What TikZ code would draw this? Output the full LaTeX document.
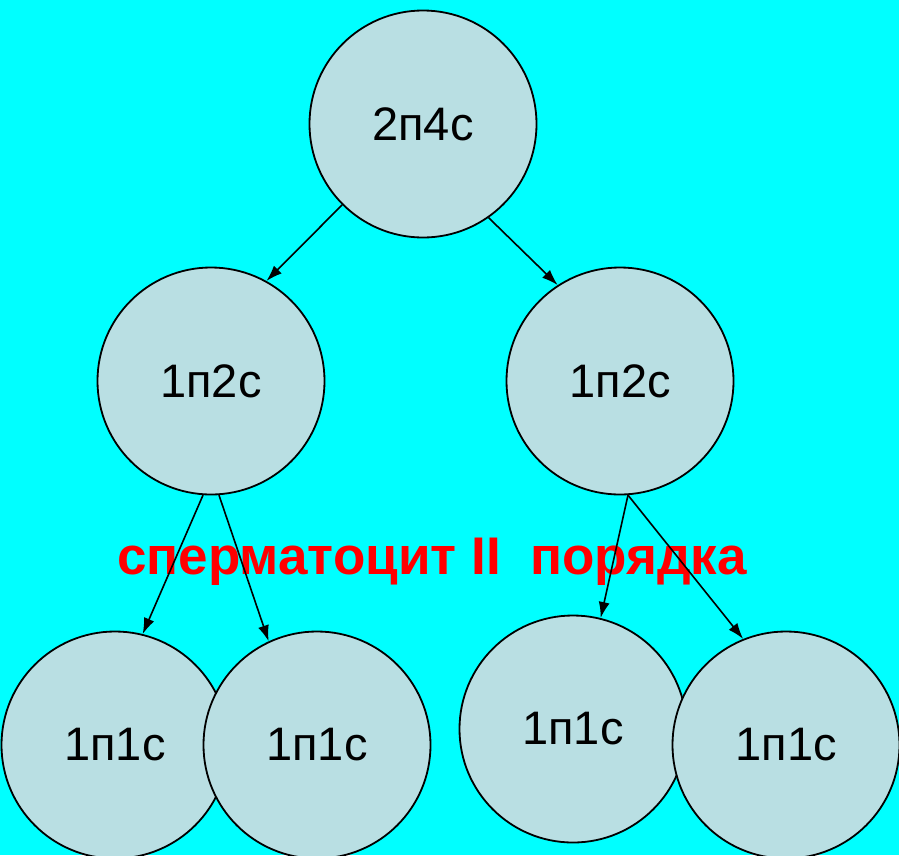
\documentclass[tikz,border=0pt]{standalone}
\usepackage{fontspec}
\setmainfont{Liberation Sans}
\usepackage{tikz}
\usetikzlibrary{positioning, arrows.meta}
\tikzstyle{sheet} = [x = 1pt, y = -1pt]
\definecolor{bgColor}{RGB}{0,255,255}
\definecolor{cellFill}{RGB}{185,223,227}
\definecolor{labelRed}{RGB}{255,0,0}
\tikzstyle{cellStyle} = [circle, draw=black, fill=cellFill, line width=1.8pt, minimum size=227pt, inner sep=0pt, font=\fontsize{47}{47}\selectfont]
\tikzstyle{splitArrow} = [-{Latex[length=16pt, width=11pt]}, line width=1.6pt]
\tikzstyle{stageText} = [text=labelRed, anchor=base west, inner sep=0pt, font=\fontsize{53}{53}\selectfont\bfseries]
\newcommand{\cell}[4]{\node [cellStyle] (#1) at (#2, #3) {#4};}
\newcommand{\splitTo}[4]{\draw [splitArrow] (#1.#2) -- (#3.#4);}
\begin{document}
\begin{tikzpicture}[sheet]
        \fill [bgColor] (0,0) rectangle (899,855);
        \useasboundingbox (0,0) rectangle (899,855);

        % first and second division
        \cell{mother}{423}{124}{2п4с}
        \cell{leftTwo}{211}{381}{1п2с}
        \cell{rightTwo}{620}{381}{1п2с}
        \cell{cellA}{115}{745}{1п1с}
        \cell{cellB}{317}{745}{1п1с}
        \cell{cellC}{573}{729}{1п1с}
        \cell{cellD}{786}{745}{1п1с}

        \node [stageText] (stage) at (117,574) {сперматоцит II~~порядка};

        \splitTo{mother}{225}{leftTwo}{61}
        \splitTo{mother}{305}{rightTwo}{123}
        \splitTo{leftTwo}{266}{cellA}{76}
        \splitTo{leftTwo}{274}{cellB}{115}
        \splitTo{rightTwo}{274}{cellC}{76}
        \splitTo{rightTwo}{274}{cellD}{112}
      \end{tikzpicture}
\end{document}
